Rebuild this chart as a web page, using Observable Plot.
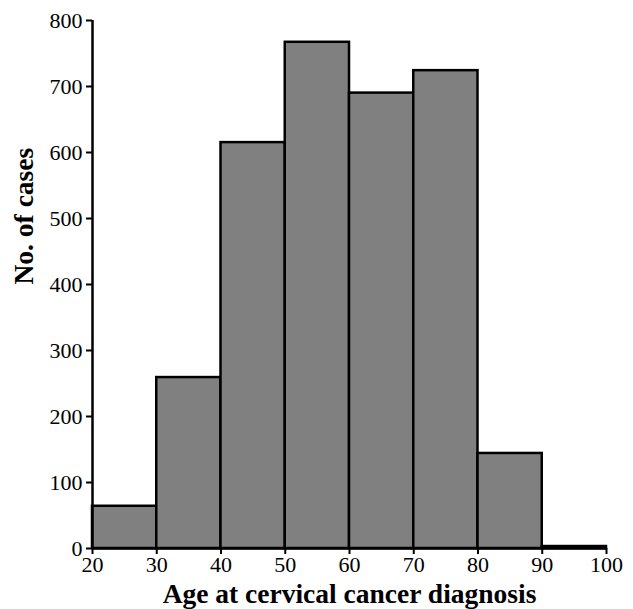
<!DOCTYPE html>
<html>
<head>
<meta charset="utf-8">
<script src="https://cdn.jsdelivr.net/npm/d3@7"></script>
<script src="https://cdn.jsdelivr.net/npm/@observablehq/plot@0.6"></script>
<style>
  html, body { margin: 0; padding: 0; background: #fff; }
  svg text { font-family: 'Liberation Serif', 'Times New Roman', serif; font-variant-numeric: normal; }
</style>
</head>
<body>
<div id="chart"></div>
<script>
const binStart = [20, 30, 40, 50, 60, 70, 80, 90];
const binEnd   = [30, 40, 50, 60, 70, 80, 90, 100];
const counts   = [64, 259, 615, 767, 690, 724, 144, 3];
const xTicks = [20, 30, 40, 50, 60, 70, 80, 90, 100];
const yTicks = [0, 100, 200, 300, 400, 500, 600, 700, 800];
const xLabel = "Age at cervical cancer diagnosis";
const yLabel = "No. of cases";

const data = counts.map((c, i) => ({x1: binStart[i], x2: binEnd[i], y: c}));
const serif = "'Liberation Serif', 'Times New Roman', serif";

const chart = Plot.plot({
  width: 633,
  height: 609,
  marginLeft: 92,
  marginRight: 27,
  marginTop: 20,
  marginBottom: 61,
  style: {fontFamily: serif, background: "#fff", color: "#000"},
  x: {domain: [20, 100]},
  y: {domain: [0, 800]},
  marks: [
    Plot.rectY(data, {x1: "x1", x2: "x2", y: "y", fill: "#808080", stroke: "#000", strokeWidth: 2.5}),
    Plot.ruleY([0], {stroke: "#000", strokeWidth: 2.5}),
    Plot.ruleX([20], {y1: 0, y2: 800, stroke: "#000", strokeWidth: 2.5}),
    Plot.axisX({ticks: xTicks, tickSize: 6, tickPadding: 2, fontSize: 22, fontFamily: serif, stroke: "#000", strokeWidth: 2, fill: "#000", label: null, tickFormat: d => String(d)}),
    Plot.axisY({ticks: yTicks, tickSize: 6, tickPadding: 4, fontSize: 22, fontFamily: serif, stroke: "#000", strokeWidth: 2, fill: "#000", label: null, tickFormat: d => String(d)}),
    Plot.text([xLabel], {text: d => d, frameAnchor: "bottom", dy: 54, fontSize: 27.5, fontFamily: serif, fontWeight: "bold", fill: "#000", lineAnchor: "bottom"}),
    Plot.text([yLabel], {text: d => d, frameAnchor: "left", dx: -68, rotate: -90, fontSize: 27.5, fontFamily: serif, fontWeight: "bold", fill: "#000"})
  ]
});
document.getElementById("chart").appendChild(chart);
</script>
</body>
</html>
